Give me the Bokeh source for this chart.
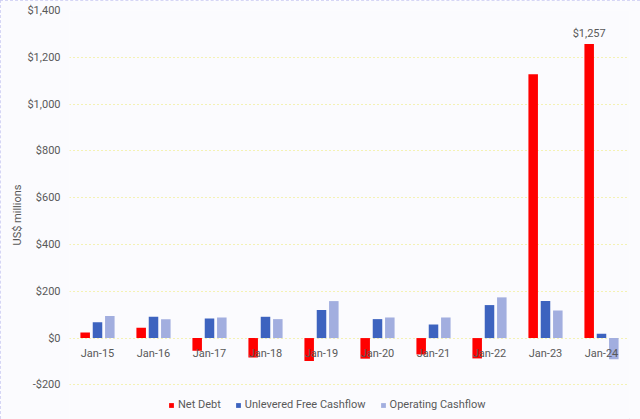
from bokeh.plotting import figure
from bokeh.models import ColumnDataSource, FactorRange, NumeralTickFormatter, Legend, LegendItem, Range1d
from bokeh.transform import dodge
from bokeh.core.properties import value
from bokeh.embed import file_html
from bokeh.resources import INLINE

categories = ["Jan-15", "Jan-16", "Jan-17", "Jan-18", "Jan-19", "Jan-20", "Jan-21", "Jan-22", "Jan-23", "Jan-24"]
net_debt = [24, 44, -54, -83, -98, -88, -70, -87, 1128, 1257]
unlevered_fcf = [68, 91, 84, 91, 120, 81, 58, 141, 158, 18]
operating_cf = [94, 80, 88, 81, 158, 88, 88, 174, 118, -90]
y_ticks = [-200, 0, 200, 400, 600, 800, 1000, 1200, 1400]

source = ColumnDataSource(dict(cat=categories, nd=net_debt, ufcf=unlevered_fcf, ocf=operating_cf,
                               zero=[0] * len(categories)))

FONT = "Roboto"
TXT = "#595959"

p = figure(x_range=FactorRange(factors=categories, range_padding=0), y_range=Range1d(-348, 1400),
           width=640, height=419, output_backend="svg", toolbar_location=None,
           min_border_left=69, min_border_right=11, min_border_top=10, min_border_bottom=0)
p.background_fill_color = "#FBFBFE"
p.border_fill_color = "#FBFBFE"
p.outline_line_color = None
p.styles = {"outline": "1px dashed #c9c9f2", "outline-offset": "-1px"}

r1 = p.vbar(x=dodge("cat", -0.22, range=p.x_range), top="nd", width=0.17, source=source,
            fill_color="#FF0000", line_color=None)
r2 = p.vbar(x=dodge("cat", 0.0, range=p.x_range), top="ufcf", width=0.17, source=source,
            fill_color="#3D63BF", line_color=None)
r3 = p.vbar(x=dodge("cat", 0.22, range=p.x_range), top="ocf", width=0.17, source=source,
            fill_color="#A2AEDF", line_color=None)

# category labels sitting just under the zero line
p.text(x="cat", y="zero", text="cat", source=source, text_align="center", text_baseline="middle",
       y_offset=15, text_font=value(FONT), text_font_size="11px", text_color=TXT)

# data label for the last net debt bar
lab = ColumnDataSource(dict(cat=[categories[-1]], y=[net_debt[-1]], t=["$1,257"]))
p.text(x=dodge("cat", -0.22, range=p.x_range), y="y", text="t", source=lab,
       text_align="center", text_baseline="bottom", y_offset=-4,
       text_font=value(FONT), text_font_size="11px", text_color=TXT)

p.yaxis.ticker = y_ticks
p.yaxis.formatter = NumeralTickFormatter(format="$0,0")
p.yaxis.axis_line_color = None
p.yaxis.major_tick_line_color = None
p.yaxis.minor_tick_line_color = None
p.yaxis.major_tick_out = 0
p.yaxis.major_tick_in = 0
p.yaxis.minor_tick_out = 0
p.yaxis.minor_tick_in = 0
p.yaxis.major_label_text_font = FONT
p.yaxis.major_label_text_font_size = "11px"
p.yaxis.major_label_text_color = TXT
p.yaxis.major_label_standoff = 9
p.yaxis.axis_label = "US$ millions"
p.yaxis.axis_label_text_font = FONT
p.yaxis.axis_label_text_font_size = "11px"
p.yaxis.axis_label_text_font_style = "normal"
p.yaxis.axis_label_text_color = TXT
p.yaxis.axis_label_standoff = 0

p.xaxis.visible = False

p.xgrid.grid_line_color = None
p.ygrid.ticker = y_ticks
p.ygrid.grid_line_color = "#EDE86A"
p.ygrid.grid_line_dash = "1 3"
p.ygrid.grid_line_width = 1

legend = Legend(items=[LegendItem(label="Net Debt", renderers=[r1]),
                       LegendItem(label="Unlevered Free Cashflow", renderers=[r2]),
                       LegendItem(label="Operating Cashflow", renderers=[r3])],
                orientation="horizontal", location=(99, 8),
                glyph_width=6, glyph_height=6, label_standoff=4, spacing=14,
                padding=0, margin=0, background_fill_alpha=0, border_line_color=None,
                label_text_font=FONT, label_text_font_size="11px", label_text_color=TXT,
                label_height=12)
p.add_layout(legend, "center")

open("out.html", "w").write(file_html(p, INLINE))
